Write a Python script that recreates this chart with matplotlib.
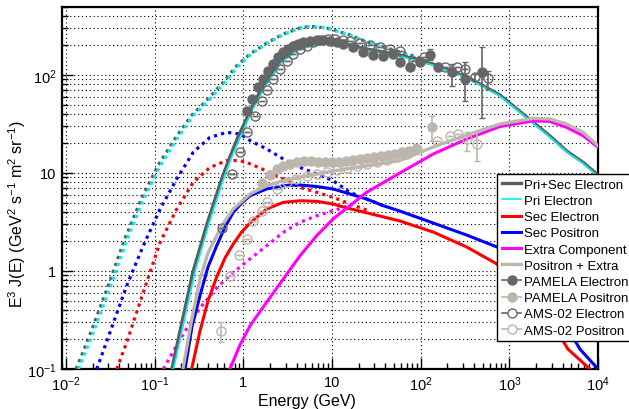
import numpy as np
import matplotlib
matplotlib.use('Agg')
import matplotlib.pyplot as plt
from matplotlib.ticker import FixedLocator, FixedFormatter, NullFormatter, LogLocator
from matplotlib.lines import Line2D

plt.rcParams['font.family'] = ['Liberation Sans', 'DejaVu Sans']
plt.rcParams['mathtext.fontset'] = 'custom'
plt.rcParams['mathtext.rm'] = 'Liberation Sans'
plt.rcParams['mathtext.it'] = 'Liberation Sans:italic'
plt.rcParams['mathtext.bf'] = 'Liberation Sans:bold'
plt.rcParams['mathtext.default'] = 'regular'

# ---------------- model curves (modulated, solid) ----------------
prisec_E = [0.156, 0.270, 0.389, 0.569, 0.706, 0.869, 1.02, 1.19, 1.66, 2.59, 4.02, 6.09, 9.47, 15.9, 24.7, 58, 137, 332, 782, 1841, 2864, 4449, 6740, 1e4]
prisec_V = [0.1, 0.977, 3.02, 8.69, 14.6, 23.3, 31.6, 43.0, 77.3, 139, 189, 212, 217, 202, 184, 160, 129, 95.5, 62.5, 33.1, 23.9, 16.7, 12.9, 9.55]

pri_E = [0.163, 0.284, 0.408, 0.597, 0.738, 0.916, 1.07, 1.25, 1.75, 2.72, 4.13, 6.25, 9.47, 15.9, 24.7, 58, 137, 332, 782, 1841, 2864, 4449, 6740, 1e4]
pri_V = [0.1, 0.977, 3.02, 8.69, 14.6, 22.8, 31.6, 43.0, 75.5, 136, 180, 202, 207, 198, 180, 156, 126, 93.1, 61.1, 32.4, 23.3, 16.4, 12.6, 9.31]

secel_E = [0.261, 0.324, 0.399, 0.500, 0.621, 0.769, 0.957, 1.19, 1.83, 2.82, 4.35, 6.70, 10.3, 13.3, 58.2, 138, 329, 723, 1855, 2864, 4570, 8090]
secel_V = [0.1, 0.244, 0.494, 0.869, 1.36, 1.89, 2.50, 3.09, 4.29, 5.02, 5.21, 5.14, 4.83, 4.50, 3.24, 2.50, 1.76, 1.18, 0.518, 0.324, 0.16, 0.1]

secpos_E = [0.220, 0.263, 0.324, 0.399, 0.500, 0.621, 0.769, 0.957, 1.19, 1.83, 2.82, 4.35, 6.70, 10.3, 15.9, 24.5, 37.8, 58.2, 138, 329, 723, 1855, 3710, 6240, 1e4]
secpos_V = [0.1, 0.269, 0.560, 1.10, 1.81, 2.81, 3.97, 4.94, 5.87, 6.87, 7.41, 7.55, 7.28, 6.87, 6.11, 5.43, 4.64, 4.09, 3.09, 2.33, 1.76, 0.93, 0.364, 0.16, 0.1]

extra_E = [0.706, 0.916, 1.19, 1.83, 2.82, 4.35, 6.70, 10.3, 15.9, 24.5, 58.2, 138, 329, 782, 1855, 2864, 4416, 6792, 1e4]
extra_V = [0.1, 0.176, 0.277, 0.480, 0.828, 1.43, 2.29, 3.40, 4.64, 6.35, 10.0, 15.6, 22.2, 29.8, 34.0, 33.6, 29.2, 24.0, 18.3]

posextra_E = [0.208, 0.256, 0.324, 0.399, 0.500, 0.621, 0.769, 1.19, 1.83, 2.82, 4.35, 6.70, 10.3, 24.5, 58.2, 138, 329, 782, 1855, 2864, 4416, 6792, 1e4]
posextra_V = [0.1, 0.288, 0.828, 1.53, 2.29, 3.24, 4.29, 6.11, 7.41, 8.34, 9.10, 9.77, 10.5, 11.8, 13.4, 18.4, 24.4, 31.6, 36.1, 35.6, 31.6, 26.0, 19.0]

# ---------------- unmodulated (dotted) ----------------
prisec_lis_E = [0.0130, 0.0191, 0.0298, 0.0459, 0.0706, 0.109, 0.168, 0.259, 0.399, 0.593, 0.840, 1.19, 1.83, 2.82, 4.35, 5.64, 8.69, 15.9, 24.5, 58.2, 89.9, 138]
prisec_lis_V = [0.1, 0.239, 0.703, 2.12, 5.43, 11.9, 22.2, 38.5, 56.9, 84.3, 124, 164, 212, 262, 302, 314, 302, 256, 217, 172, 153, 129]

pri_lis_E = [0.0138, 0.0204, 0.0318, 0.0490, 0.0753, 0.116, 0.178, 0.273, 0.420, 0.621, 0.881, 1.23, 1.89, 2.91, 4.40, 5.64, 8.69, 15.9, 24.5, 58.2, 89.9, 138]
pri_lis_V = [0.1, 0.239, 0.703, 2.12, 5.43, 11.9, 22.2, 38.5, 56.9, 84.3, 124, 164, 212, 262, 302, 314, 302, 256, 217, 168, 149, 126]

secpos_lis_E = [0.0222, 0.0313, 0.0483, 0.0743, 0.115, 0.177, 0.272, 0.420, 0.649, 0.916, 1.19, 1.83, 2.82, 4.35, 6.70, 10.3, 15.9, 24.5, 37.8]
secpos_lis_V = [0.1, 0.237, 0.708, 1.81, 4.29, 8.69, 16.3, 23.1, 26.0, 25.0, 21.4, 17.6, 13.9, 11.4, 9.77, 8.34, 6.35, 5.43, 4.64]

secel_lis_E = [0.0373, 0.0483, 0.0743, 0.115, 0.177, 0.272, 0.420, 0.649, 0.916, 1.19, 1.83, 2.82, 4.35, 6.70, 10.3, 15.9, 24.5]
secel_lis_V = [0.1, 0.187, 0.607, 1.96, 4.29, 8.04, 11.4, 13.4, 13.4, 12.4, 10.5, 8.69, 7.15, 6.35, 5.65, 4.83, 4.19]

extra_lis_E = [0.125, 0.210, 0.324, 0.500, 0.769, 1.19, 1.83, 2.82, 4.35, 6.70, 10.3, 14.6]
extra_lis_V = [0.1, 0.228, 0.419, 0.672, 0.970, 1.33, 1.81, 2.48, 3.14, 3.66, 4.12, 4.57]

# ---------------- data ----------------
pam_e_E = [1.09, 1.24, 1.47, 1.68, 1.91, 2.17, 2.47, 2.82, 3.21, 3.65, 4.16, 4.73, 5.64, 6.76, 7.89, 9.47, 11.4, 13.4, 17.3, 22.5, 29.1, 37.8, 49.0, 58.2, 75.5, 98, 127, 157, 223, 315, 486]
pam_e_V = [43.3, 56.9, 74.8, 91.0, 110.7, 129.4, 151.6, 170.6, 184, 199, 207, 216, 222, 228, 228, 222, 216, 207, 193, 172, 160, 156, 164, 136, 121, 136, 160, 121, 107, 91, 107]
pam_e_lo = [0]*22 + [8, 8, 9, 10, 19, 12, 30, 37, 71]
pam_e_hi = [0]*22 + [8, 8, 9, 10, 24, 12, 22, 45, 86]

ams_e_E = [0.569, 0.738, 0.916, 1.09, 1.35, 1.61, 1.83, 2.17, 2.59, 3.08, 3.65, 4.35, 5.17, 6.09, 7.31, 8.9, 10.7, 13.3, 15.9, 20.6, 26.7, 34.7, 45, 58.2, 81.7, 109, 187, 254, 315, 408, 577]
ams_e_V = [2.73, 9.77, 16.3, 26.0, 38.5, 54.7, 70.8, 91.0, 115, 140, 164, 184, 199, 217, 228, 233, 233, 228, 222, 212, 202, 193, 184, 176, 140, 153, 120, 120, 115, 94.8, 92.5]
ams_e_lo = [0]*29 + [8, 20.5]
ams_e_hi = [0]*29 + [8, 18.5]

pam_p_E = [1.62, 2.00, 2.39, 2.80, 3.35, 4.02, 4.82, 5.78, 6.93, 8.32, 9.98, 12.0, 14.3, 17.2, 20.6, 24.7, 29.7, 35.6, 42.7, 51.2, 61.4, 73.6, 88.3, 133]
pam_p_V = [7.91, 9.55, 11.0, 11.8, 12.4, 12.9, 13.2, 13.2, 12.9, 12.9, 12.9, 13.1, 13.2, 13.6, 13.9, 14.2, 14.6, 14.9, 15.3, 15.6, 16.4, 16.8, 17.6, 29.2]
pam_p_lo = [0]*18 + [1.2, 1.3, 1.5, 1.7, 2.0, 7.8]
pam_p_hi = [0]*18 + [1.2, 1.3, 1.5, 1.7, 2.0, 9.3]

ams_p_E = [0.555, 0.706, 0.90, 1.09, 1.29, 1.61, 1.83, 2.37, 3.08, 3.92, 5.17, 6.70, 8.69, 11.3, 14.6, 18.9, 24.5, 31.8, 41.3, 53.5, 69.3, 89.9, 151, 213, 265, 329, 427]
ams_p_V = [0.246, 0.895, 1.46, 2.12, 3.26, 4.12, 5.10, 6.87, 8.09, 8.69, 9.31, 9.77, 10.2, 10.7, 11.2, 11.8, 12.4, 12.9, 13.6, 14.6, 15.6, 17.6, 21.4, 23.9, 25.0, 22.2, 19.8]
ams_p_lo = [0.056] + [0]*24 + [5.3, 6.5]
ams_p_hi = [0.054] + [0]*24 + [3.8, 6.3]

x_ticks = [1e-2, 1e-1, 1, 10, 1e2, 1e3, 1e4]
x_labels = ['$10^{-2}$', '$10^{-1}$', '1', '10', '$10^{2}$', '$10^{3}$', '$10^{4}$']
y_ticks = [0.1, 1, 10, 100]
y_labels = ['$10^{-1}$', '1', '10', '$10^{2}$']

C_GRAY = '#5b5b5b'
C_CYAN = '#00eeee'
C_LIGHT = '#bdb6ad'

fig = plt.figure(figsize=(6.29, 4.10), dpi=100)
ax = fig.add_axes([62/629, 1-370/410, 536/629, 362.5/410])
ax.set_xscale('log')
ax.set_yscale('log')
ax.set_xlim(0.0090, 1e4)
ax.set_ylim(0.1, 500)

dot = (0, (1.0, 1.3))
lwd = 2.3
ax.plot(prisec_lis_E, prisec_lis_V, color=C_GRAY, lw=lwd, ls=dot, zorder=3)
ax.plot(pri_lis_E, pri_lis_V, color=C_CYAN, lw=lwd, ls=dot, zorder=3)
ax.plot(secel_lis_E, secel_lis_V, color='red', lw=lwd, ls=dot, zorder=3)
ax.plot(secpos_lis_E, secpos_lis_V, color='blue', lw=lwd, ls=dot, zorder=3)
ax.plot(extra_lis_E, extra_lis_V, color='magenta', lw=lwd, ls=dot, zorder=3)

h1, = ax.plot(prisec_E, prisec_V, color=C_GRAY, lw=2.4, zorder=4)
h2, = ax.plot(pri_E, pri_V, color=C_CYAN, lw=1.2, zorder=4)
h3, = ax.plot(secel_E, secel_V, color='red', lw=2.2, zorder=4)
h4, = ax.plot(secpos_E, secpos_V, color='blue', lw=2.2, zorder=4)
h5, = ax.plot(extra_E, extra_V, color='magenta', lw=2.2, zorder=4)
h6, = ax.plot(posextra_E, posextra_V, color=C_LIGHT, lw=2.4, zorder=4)

def yerr(lo, hi):
    return np.array([lo, hi], dtype=float)

ax.errorbar(pam_p_E, pam_p_V, yerr=yerr(pam_p_lo, pam_p_hi), fmt='o', ms=6.5, color=C_LIGHT,
            mec=C_LIGHT, mfc=C_LIGHT, elinewidth=1.2, capsize=2, zorder=5)
ax.errorbar(ams_p_E, ams_p_V, yerr=yerr(ams_p_lo, ams_p_hi), fmt='o', ms=6.5, color=C_LIGHT,
            mec=C_LIGHT, mfc='none', mew=1.0, elinewidth=1.2, capsize=2, zorder=5)
ax.errorbar(pam_e_E, pam_e_V, yerr=yerr(pam_e_lo, pam_e_hi), fmt='o', ms=6.5, color='#666666',
            mec='#666666', mfc='#666666', elinewidth=1.2, capsize=2, zorder=6)
ax.errorbar(ams_e_E, ams_e_V, yerr=yerr(ams_e_lo, ams_e_hi), fmt='o', ms=6.5, color='#666666',
            mec='#666666', mfc='none', mew=1.0, elinewidth=1.2, capsize=2, zorder=6)

# axes styling
ax.xaxis.set_major_locator(FixedLocator(x_ticks))
ax.xaxis.set_major_formatter(FixedFormatter(x_labels))
ax.xaxis.set_minor_locator(LogLocator(base=10, subs=np.arange(2, 10)))
ax.xaxis.set_minor_formatter(NullFormatter())
ax.yaxis.set_major_locator(FixedLocator(y_ticks))
ax.yaxis.set_major_formatter(FixedFormatter(y_labels))
ax.yaxis.set_minor_locator(LogLocator(base=10, subs=np.arange(2, 10)))
ax.yaxis.set_minor_formatter(NullFormatter())
ax.tick_params(which='both', direction='in', top=False, right=False, labelsize=10.5, width=1)
ax.tick_params(which='major', length=8, pad=4)
ax.tick_params(which='minor', length=4)
for s in ax.spines.values():
    s.set_linewidth(1.6)
ax.grid(which='major', axis='x', color='black', ls=(0, (1, 2.5)), lw=0.8)
ax.grid(which='both', axis='y', color='black', ls=(0, (1, 2.5)), lw=0.8)
ax.set_axisbelow(True)

ax.set_xlabel('Energy (GeV)', fontsize=11.5)
ax.xaxis.set_label_coords(0.457, -0.065)
ax.set_ylabel('E$^{3}$ J(E) (GeV$^{2}$ s$^{-1}$ m$^{2}$ sr$^{-1}$)', fontsize=11.5)
ax.yaxis.set_label_coords(-0.063, 0.43)

hp_e = Line2D([], [], color='#666666', marker='o', ms=6.5, mfc='#666666', lw=1.2)
hp_p = Line2D([], [], color=C_LIGHT, marker='o', ms=6.5, mfc=C_LIGHT, lw=1.2)
ha_e = Line2D([], [], color='#666666', marker='o', ms=6.5, mfc='white', lw=1.2)
ha_p = Line2D([], [], color=C_LIGHT, marker='o', ms=6.5, mfc='white', lw=1.2)
handles = [h1, h2, h3, h4, h5, h6, hp_e, hp_p, ha_e, ha_p]
labels = ['Pri+Sec Electron', 'Pri Electron', 'Sec Electron', 'Sec Positron', 'Extra Component',
          'Positron + Extra', 'PAMELA Electron', 'PAMELA Positron', 'AMS-02 Electron', 'AMS-02 Positron']
leg = fig.legend(handles, labels, loc='upper left', bbox_to_anchor=(497/629, 1-175/410),
                 bbox_transform=fig.transFigure, fontsize=9.5, frameon=True, fancybox=False,
                 framealpha=1, edgecolor='black', borderaxespad=0, borderpad=0.35,
                 labelspacing=0.3, handlelength=1.5, handletextpad=0.2)
leg.get_frame().set_linewidth(1.0)
leg.set_zorder(10)

fig.savefig('out.png', dpi=100)
